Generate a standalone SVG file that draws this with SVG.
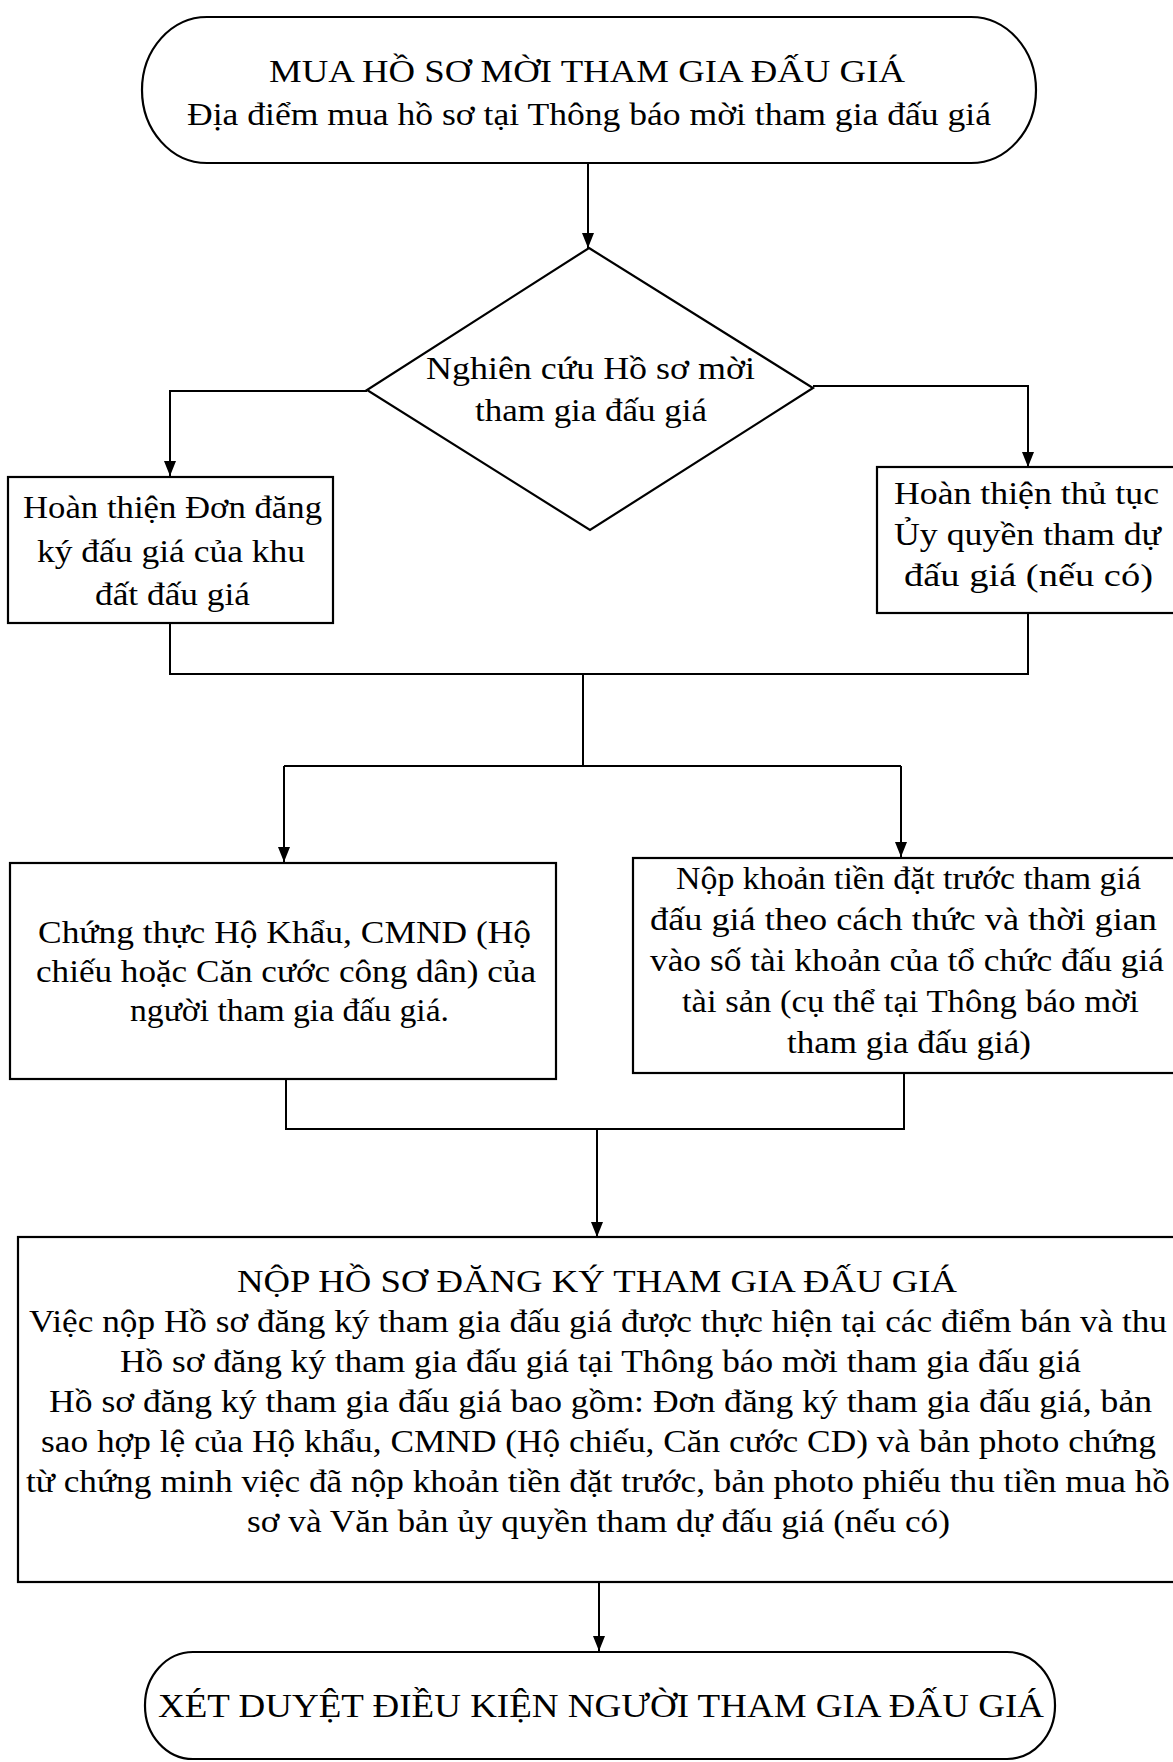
<svg xmlns="http://www.w3.org/2000/svg" width="1173" height="1762" viewBox="0 0 1173 1762">
<style>
.shape{fill:#fff;stroke:#000;stroke-width:2.2}
.conn{fill:none;stroke:#000;stroke-width:2}
text{font-family:"Liberation Serif","Times New Roman",serif;font-size:31px;fill:#000}
.big{font-size:33px}
</style>
<defs>
<marker id="arr" markerUnits="userSpaceOnUse" markerWidth="15" markerHeight="12" refX="15" refY="6" orient="auto">
<path d="M0,0 L15,6 L0,12 z" fill="#000"/>
</marker>
</defs>
<rect width="1173" height="1762" fill="#fff"/>
<g id="connectors">
<path class="conn" d="M588,163 V248" marker-end="url(#arr)"/>
<path class="conn" d="M367,391 H170 V476" marker-end="url(#arr)"/>
<path class="conn" d="M813,386 H1028 V467" marker-end="url(#arr)"/>
<path class="conn" d="M170,623 V674 H1028 V613"/>
<path class="conn" d="M583,674 V766"/>
<path class="conn" d="M284,766 H901"/>
<path class="conn" d="M284,766 V862" marker-end="url(#arr)"/>
<path class="conn" d="M901,766 V857" marker-end="url(#arr)"/>
<path class="conn" d="M286,1079 V1129 H904 V1073"/>
<path class="conn" d="M597,1129 V1237" marker-end="url(#arr)"/>
<path class="conn" d="M599,1582 V1651" marker-end="url(#arr)"/>
</g>
<g id="start">
<rect class="shape" x="142" y="17" width="894" height="146" rx="65" ry="73"/>
<text x="269" y="82" textLength="636" lengthAdjust="spacingAndGlyphs">MUA HỒ SƠ MỜI THAM GIA ĐẤU GIÁ</text>
<text x="187" y="125" textLength="804" lengthAdjust="spacingAndGlyphs">Địa điểm mua hồ sơ tại Thông báo mời tham gia đấu giá</text>
</g>
<g id="decision">
<polygon class="shape" points="589,248 813,388 590,530 367,390"/>
<text x="426" y="379" textLength="329" lengthAdjust="spacingAndGlyphs">Nghiên cứu Hồ sơ mời</text>
<text x="475" y="421" textLength="232" lengthAdjust="spacingAndGlyphs">tham gia đấu giá</text>
</g>
<g id="don-dang-ky">
<rect class="shape" x="8" y="477" width="325" height="146"/>
<text x="23" y="518" textLength="299" lengthAdjust="spacingAndGlyphs">Hoàn thiện Đơn đăng</text>
<text x="37" y="562" textLength="268" lengthAdjust="spacingAndGlyphs">ký đấu giá của khu</text>
<text x="95" y="605" textLength="155" lengthAdjust="spacingAndGlyphs">đất đấu giá</text>
</g>
<g id="uy-quyen">
<rect class="shape" x="877" y="467" width="300" height="146"/>
<text x="894" y="504" textLength="265" lengthAdjust="spacingAndGlyphs">Hoàn thiện thủ tục</text>
<text x="894" y="545" textLength="267" lengthAdjust="spacingAndGlyphs">Ủy quyền tham dự</text>
<text x="904" y="586" textLength="249" lengthAdjust="spacingAndGlyphs">đấu giá (nếu có)</text>
</g>
<g id="chung-thuc">
<rect class="shape" x="10" y="863" width="546" height="216"/>
<text x="38" y="943" textLength="493" lengthAdjust="spacingAndGlyphs">Chứng thực Hộ Khẩu, CMND (Hộ</text>
<text x="36" y="982" textLength="500" lengthAdjust="spacingAndGlyphs">chiếu hoặc Căn cước công dân) của</text>
<text x="130" y="1021" textLength="319" lengthAdjust="spacingAndGlyphs">người tham gia đấu giá.</text>
</g>
<g id="nop-tien">
<rect class="shape" x="633" y="858" width="544" height="215"/>
<text x="676" y="889" textLength="465" lengthAdjust="spacingAndGlyphs">Nộp khoản tiền đặt trước tham giá</text>
<text x="650" y="930" textLength="507" lengthAdjust="spacingAndGlyphs">đấu giá theo cách thức và thời gian</text>
<text x="650" y="971" textLength="514" lengthAdjust="spacingAndGlyphs">vào số tài khoản của tổ chức đấu giá</text>
<text x="682" y="1012" textLength="457" lengthAdjust="spacingAndGlyphs">tài sản (cụ thể tại Thông báo mời</text>
<text x="787" y="1053" textLength="244" lengthAdjust="spacingAndGlyphs">tham gia đấu giá)</text>
</g>
<g id="nop-ho-so">
<rect class="shape" x="18" y="1237" width="1160" height="345"/>
<text x="237" y="1292" textLength="720" lengthAdjust="spacingAndGlyphs">NỘP HỒ SƠ ĐĂNG KÝ THAM GIA ĐẤU GIÁ</text>
<text x="29" y="1332" textLength="1138" lengthAdjust="spacingAndGlyphs">Việc nộp Hồ sơ đăng ký tham gia đấu giá được thực hiện tại các điểm bán và thu</text>
<text x="120" y="1372" textLength="961" lengthAdjust="spacingAndGlyphs">Hồ sơ đăng ký tham gia đấu giá tại Thông báo mời tham gia đấu giá</text>
<text x="49" y="1412" textLength="1103" lengthAdjust="spacingAndGlyphs">Hồ sơ đăng ký tham gia đấu giá bao gồm: Đơn đăng ký tham gia đấu giá, bản</text>
<text x="41" y="1452" textLength="1115" lengthAdjust="spacingAndGlyphs">sao hợp lệ của Hộ khẩu, CMND (Hộ chiếu, Căn cước CD) và bản photo chứng</text>
<text x="26" y="1492" textLength="1144" lengthAdjust="spacingAndGlyphs">từ chứng minh việc đã nộp khoản tiền đặt trước, bản photo phiếu thu tiền mua hồ</text>
<text x="247" y="1532" textLength="703" lengthAdjust="spacingAndGlyphs">sơ và Văn bản ủy quyền tham dự đấu giá (nếu có)</text>
</g>
<g id="xet-duyet">
<rect class="shape" x="145" y="1652" width="910" height="107" rx="48" ry="53"/>
<text class="big" x="158" y="1717" textLength="886" lengthAdjust="spacingAndGlyphs">XÉT DUYỆT ĐIỀU KIỆN NGƯỜI THAM GIA ĐẤU GIÁ</text>
</g>
</svg>
